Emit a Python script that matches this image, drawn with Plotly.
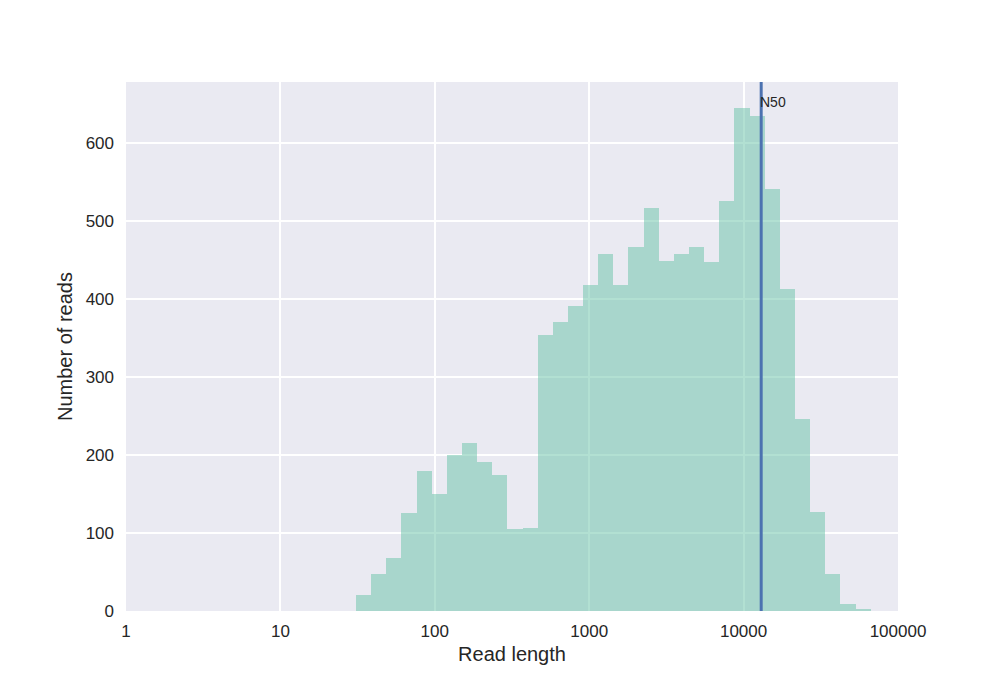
import numpy as np
import plotly.graph_objects as go

# read length histogram (log-spaced bins)
read_min = 30.9
read_max = 66500
n_bins = 34
counts = [20, 48, 68, 125, 179, 150, 200, 215, 191, 174, 105, 107,
          354, 370, 391, 418, 458, 418, 466, 516, 449, 458, 467, 447,
          526, 645, 634, 541, 413, 246, 127, 48, 9, 3]
n50 = 13000
tick_vals = [1, 10, 100, 1000, 10000, 100000]
tick_text = ["1", "10", "100", "1000", "10000", "100000"]

edges = np.linspace(np.log10(read_min), np.log10(read_max), n_bins + 1)
centers = (edges[:-1] + edges[1:]) / 2
widths = np.diff(edges)

font = dict(family="Liberation Sans, Arial, sans-serif", size=17, color="#262626")

fig = go.Figure()
fig.add_trace(go.Bar(
    x=centers, y=counts, width=widths,
    marker=dict(color="rgba(102,194,165,0.5)", line=dict(width=0)),
    showlegend=False,
))
fig.add_trace(go.Scatter(
    x=[np.log10(n50), np.log10(n50)], y=[0, 678],
    mode="lines", line=dict(color="#4c72b0", width=3),
    showlegend=False, hoverinfo="skip",
))
fig.add_annotation(
    x=np.log10(n50), y=max(counts), text="N50",
    showarrow=False, xanchor="left", yanchor="bottom", yshift=-4, xshift=-3,
    font=dict(family=font["family"], size=14, color="#262626"),
)

# page body has an 8px offset, so margins are measured from there
fig.update_layout(
    width=984, height=671,
    margin=dict(l=118, r=94, t=74, b=68),
    paper_bgcolor="white", plot_bgcolor="#eaeaf2",
    font=font, bargap=0,
    xaxis=dict(
        range=[0, 5], tickvals=np.log10(tick_vals), ticktext=tick_text,
        showgrid=True, gridcolor="white", gridwidth=1.8, zeroline=False,
        ticks="", ticklabelstandoff=8,
        title=dict(text="Read length", standoff=6),
    ),
    yaxis=dict(
        range=[0, 678], tickvals=[0, 100, 200, 300, 400, 500, 600],
        showgrid=True, gridcolor="white", gridwidth=1.8, zeroline=False,
        ticks="", ticklabelstandoff=11,
        title=dict(text="Number of reads", standoff=7),
    ),
)

fig.write_html("out.html")
